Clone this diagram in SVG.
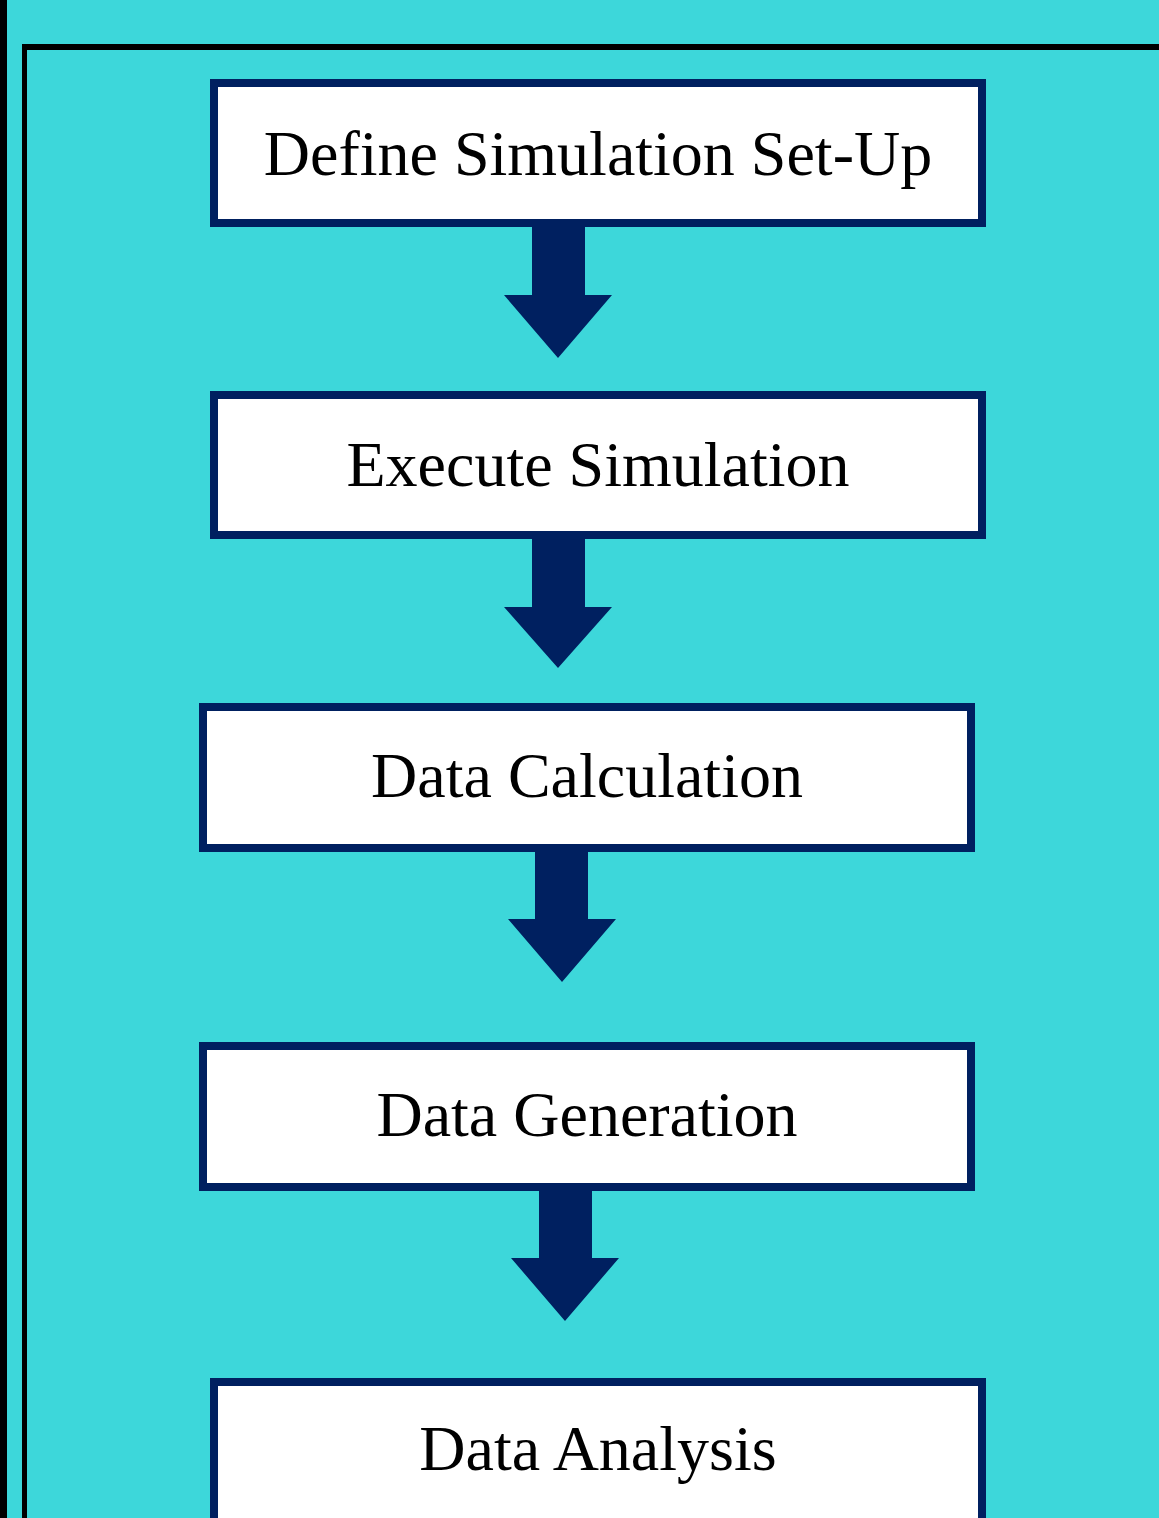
<svg xmlns="http://www.w3.org/2000/svg" width="1159" height="1518" viewBox="0 0 1159 1518">
  <style>
    .box { fill: #ffffff; stroke: #002060; stroke-width: 8; }
    .lbl { font-family: "Liberation Serif", "Times New Roman", serif; font-size: 64px; fill: #000000; text-anchor: middle; }
    .arrow { fill: #002060; }
  </style>
  <!-- background and frame -->
  <rect x="0" y="0" width="1159" height="1518" fill="#3DD7DA"/>
  <rect x="0" y="0" width="7" height="1518" fill="#000000"/>
  <rect x="22" y="44" width="1137" height="6" fill="#000000"/>
  <rect x="22" y="44" width="5" height="1474" fill="#000000"/>

  <g id="connectors">
    <polygon class="arrow" points="532,223 585,223 585,295 612,295 558,358 504,295 532,295"/>
    <polygon class="arrow" points="532,535 585,535 585,607 612,607 558,668 504,607 532,607"/>
    <polygon class="arrow" points="535,848 588,848 588,919 616,919 562,982 508,919 535,919"/>
    <polygon class="arrow" points="539,1187 592,1187 592,1258 619,1258 565,1321 511,1258 539,1258"/>
  </g>

  <g id="node-setup">
    <rect class="box" x="214" y="83" width="768" height="140"/>
    <text class="lbl" x="598" y="175">Define Simulation Set-Up</text>
  </g>
  <g id="node-execute">
    <rect class="box" x="214" y="395" width="768" height="140"/>
    <text class="lbl" x="598" y="486">Execute Simulation</text>
  </g>
  <g id="node-calculation">
    <rect class="box" x="203" y="707" width="768" height="141"/>
    <text class="lbl" x="587" y="797">Data Calculation</text>
  </g>
  <g id="node-generation">
    <rect class="box" x="203" y="1046" width="768" height="141"/>
    <text class="lbl" x="587" y="1136">Data Generation</text>
  </g>
  <g id="node-analysis">
    <rect class="box" x="214" y="1382" width="768" height="160"/>
    <text class="lbl" x="598" y="1470">Data Analysis</text>
  </g>
</svg>
